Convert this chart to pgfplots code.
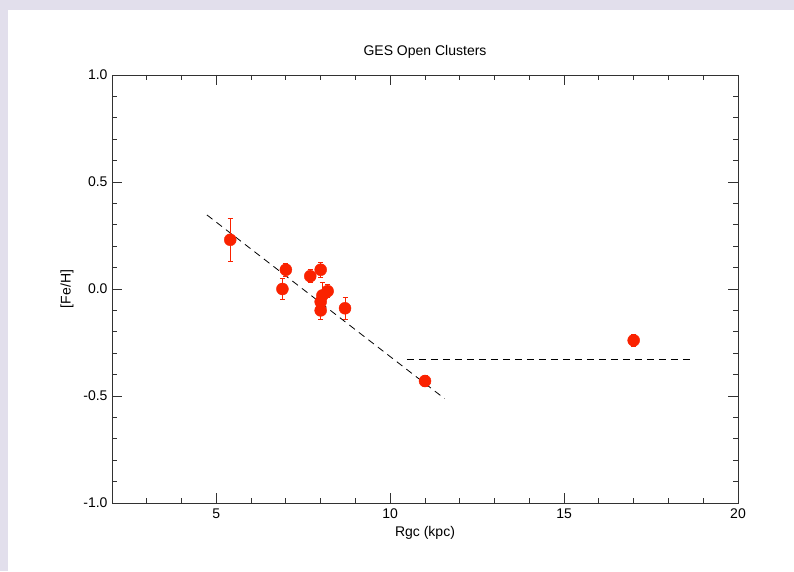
\documentclass[border=0pt]{standalone}
\usepackage{pgfplots}
\pgfplotsset{compat=1.18}
\usepackage{fontspec}
\setmainfont{Liberation Sans}

\definecolor{frame}{RGB}{226,223,236}
\definecolor{ptred}{RGB}{250,34,0}
\definecolor{axisgrey}{RGB}{50,50,50}

% Gaia-ESO open clusters: Galactocentric radius, [Fe/H], error
\pgfplotstableread{
R     feh    err
5.4   0.23   0.10
6.9   0.00   0.05
7.0   0.09   0.03
7.7   0.06   0.03
8.0   0.09   0.035
8.2  -0.01   0.03
8.05 -0.03   0.06
8.0  -0.06   0.03
8.0  -0.10   0.04
8.7  -0.09   0.05
11.0 -0.43   0.025
17.0 -0.24   0.03
}\clusters

\begin{document}
\begin{tikzpicture}
\fill[frame] (0pt,0pt) rectangle (794pt,571pt);
\fill[white] (8pt,0pt) rectangle (794pt,561pt);
\useasboundingbox (0pt,0pt) rectangle (794pt,571pt);

\begin{axis}[
  at={(112pt,68pt)}, anchor=south west,
  width=626pt, height=428pt, scale only axis,
  xmin=2, xmax=20, ymin=-1, ymax=1,
  axis line style={axisgrey, line width=0.9pt},
  every tick/.style={axisgrey, line width=0.8pt},
  tick align=inside,
  major tick length=10pt, minor tick length=5pt,
  xtick={5,10,15,20},
  minor xtick={3,4,6,7,8,9,11,12,13,14,16,17,18,19},
  ytick={-1,-0.5,0,0.5,1},
  yticklabels={-1.0,-0.5,0.0,0.5,1.0},
  minor ytick={-0.9,-0.8,-0.7,-0.6,-0.4,-0.3,-0.2,-0.1,0.1,0.2,0.3,0.4,0.6,0.7,0.8,0.9},
  ticklabel style={font=\fontsize{14}{16}\selectfont},
  /pgf/number format/assume math mode=true,
  xticklabel style={yshift=-2pt},
  yticklabel style={xshift=-1pt},
  clip=false,
]
% linear gradient inside the solar circle and flat outer plateau
\addplot[black, dash pattern=on 7pt off 5pt, line width=0.8pt]
  coordinates {(4.73,0.346) (11.56,-0.512)};
\addplot[black, dash pattern=on 7pt off 5pt, line width=0.8pt]
  coordinates {(10.48,-0.327) (18.67,-0.327)};
\addplot[only marks, mark=*, mark size=6pt,
  mark options={fill=ptred, draw=ptred},
  error bars/.cd, y dir=both, y explicit,
  error bar style={ptred, line width=0.9pt},
  error mark options={rotate=90, ptred, mark size=2.5pt, line width=0.8pt}]
  table[x=R, y=feh, y error=err] {\clusters};
\end{axis}

\node[font=\fontsize{14}{16}\selectfont] at (425pt,519pt) {GES Open Clusters};
\node[font=\fontsize{14}{16}\selectfont] at (425pt,38pt) {Rgc (kpc)};
\node[font=\fontsize{14}{16}\selectfont, rotate=90] at (67pt,282pt) {[Fe/H]};
\end{tikzpicture}
\end{document}
